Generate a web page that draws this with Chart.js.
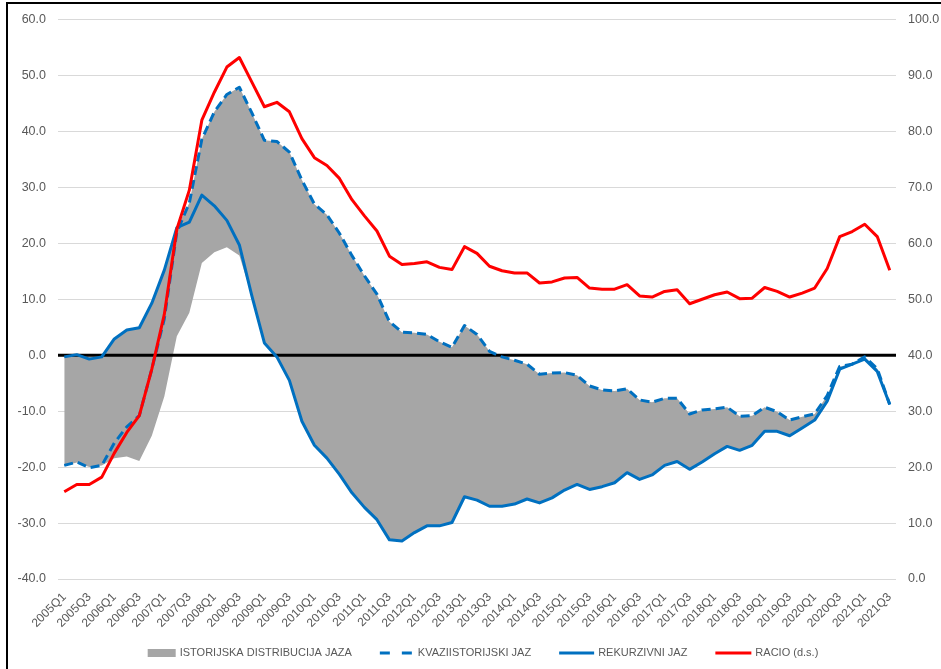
<!DOCTYPE html>
<html>
<head>
<meta charset="utf-8">
<script src="https://cdn.jsdelivr.net/npm/chart.js@4/dist/chart.umd.min.js"></script>
<style>
html,body{margin:0;padding:0;background:#fff;}
canvas{display:block;}
</style>
</head>
<body>
<canvas id="c" width="941" height="669"></canvas>
<script>
const quarters = [
  '2005Q1','2005Q2','2005Q3','2005Q4','2006Q1','2006Q2','2006Q3','2006Q4',
  '2007Q1','2007Q2','2007Q3','2007Q4','2008Q1','2008Q2','2008Q3','2008Q4',
  '2009Q1','2009Q2','2009Q3','2009Q4','2010Q1','2010Q2','2010Q3','2010Q4',
  '2011Q1','2011Q2','2011Q3','2011Q4','2012Q1','2012Q2','2012Q3','2012Q4',
  '2013Q1','2013Q2','2013Q3','2013Q4','2014Q1','2014Q2','2014Q3','2014Q4',
  '2015Q1','2015Q2','2015Q3','2015Q4','2016Q1','2016Q2','2016Q3','2016Q4',
  '2017Q1','2017Q2','2017Q3','2017Q4','2018Q1','2018Q2','2018Q3','2018Q4',
  '2019Q1','2019Q2','2019Q3','2019Q4','2020Q1','2020Q2','2020Q3','2020Q4',
  '2021Q1','2021Q2','2021Q3'
];

// Historical distribution of the gap (grey band): lower and upper bounds
const bandLower = [
  -19.8,-19.2,-20.0,-19.7,-18.4,-18.1,-18.9,-14.4,
  -7.4,3.4,7.6,16.5,18.4,19.3,17.8,10.6,
  2.2,-0.3,-4.5,-11.8,-16.1,-18.4,-21.3,-24.6,
  -27.2,-29.4,-33.0,-33.2,-31.7,-30.5,-30.5,-29.9,
  -25.3,-25.9,-27.0,-27.0,-26.6,-25.7,-26.4,-25.5,
  -24.1,-23.1,-24.0,-23.5,-22.8,-21.0,-22.2,-21.4,
  -19.7,-19.0,-20.4,-19.1,-17.6,-16.3,-17.0,-16.1,
  -13.6,-13.6,-14.4,-13.0,-11.6,-8.2,-2.5,-1.6,
  -0.7,-2.9,-8.8
];
const bandUpper = [
  0.0,0.1,-0.3,-0.2,2.9,4.5,4.9,9.3,
  15.2,22.8,27.2,38.6,43.5,46.6,47.9,43.3,
  38.4,38.2,36.3,31.3,27.0,25.1,21.8,17.8,
  14.2,10.9,6.0,4.1,4.0,3.7,2.4,1.4,
  5.3,3.7,0.7,-0.3,-0.9,-1.6,-3.4,-3.2,
  -3.1,-3.6,-5.5,-6.2,-6.4,-6.0,-8.0,-8.4,
  -7.7,-7.7,-10.5,-9.8,-9.6,-9.3,-10.9,-10.8,
  -9.3,-10.1,-11.6,-11.0,-10.5,-7.2,-2.0,-1.6,
  -0.3,-2.4,-8.8
];
// KVAZIISTORIJSKI JAZ (dashed blue)
const kvaziGap = [
  -19.7,-19.1,-20.1,-19.7,-15.7,-12.8,-10.8,-2.5,
  6.5,22.0,27.2,38.6,43.5,46.6,47.9,43.3,
  38.4,38.2,36.3,31.3,27.0,25.1,21.8,17.8,
  14.2,10.9,6.0,4.1,4.0,3.7,2.4,1.4,
  5.3,3.7,0.7,-0.3,-0.9,-1.6,-3.4,-3.2,
  -3.1,-3.6,-5.5,-6.2,-6.4,-6.0,-8.0,-8.4,
  -7.7,-7.7,-10.5,-9.8,-9.6,-9.3,-10.9,-10.8,
  -9.3,-10.1,-11.6,-11.0,-10.5,-7.2,-2.0,-1.6,
  -0.3,-2.4,-8.8
];
// REKURZIVNI JAZ (solid blue)
const rekurzivniGap = [
  -0.3,0.1,-0.7,-0.3,2.9,4.5,4.9,9.3,
  15.2,22.8,23.8,28.6,26.7,24.1,19.7,10.6,
  2.2,-0.3,-4.5,-11.8,-16.1,-18.4,-21.3,-24.6,
  -27.2,-29.4,-33.0,-33.2,-31.7,-30.5,-30.5,-29.9,
  -25.3,-25.9,-27.0,-27.0,-26.6,-25.7,-26.4,-25.5,
  -24.1,-23.1,-24.0,-23.5,-22.8,-21.0,-22.2,-21.4,
  -19.7,-19.0,-20.4,-19.1,-17.6,-16.3,-17.0,-16.1,
  -13.6,-13.6,-14.4,-13.0,-11.6,-8.2,-2.5,-1.6,
  -0.7,-2.9,-8.8
];
// RACIO (d.s.) - right axis
const racio = [
  15.6,16.9,16.9,18.2,22.5,26.2,29.2,37.5,
  47.3,62.5,69.5,82.0,87.0,91.5,93.2,88.8,
  84.4,85.2,83.5,78.7,75.3,73.9,71.6,67.8,
  64.9,62.2,57.7,56.2,56.4,56.7,55.7,55.3,
  59.4,58.2,55.9,55.1,54.7,54.7,52.9,53.1,
  53.8,53.9,52.0,51.8,51.8,52.6,50.6,50.4,
  51.4,51.7,49.2,50.0,50.8,51.3,50.1,50.2,
  52.1,51.4,50.4,51.1,52.0,55.5,61.2,62.1,
  63.4,61.2,55.2
];
const leftTicks = {min:-40, max:60, step:10};
const rightTicks = {min:0, max:100, step:10};

const FONT = '"Liberation Sans", Arial, sans-serif';
const TXT = '#595959';

const zeroLine = {
  id:'zeroLine',
  afterDatasetDraw(chart, args){
    if (args.index !== 1) return;
    const ys = chart.scales.y, a = chart.chartArea, c = chart.ctx;
    const y0 = ys.getPixelForValue(0);
    c.save();
    c.strokeStyle = '#000';
    c.lineWidth = 3;
    c.beginPath();
    c.moveTo(a.left, y0);
    c.lineTo(a.right, y0);
    c.stroke();
    c.restore();
  }
};

const frame = {
  id:'frame',
  afterDraw(chart){
    const c = chart.ctx;
    c.save();
    c.fillStyle = '#000';
    c.fillRect(6, 2, 2, chart.height - 2);
    c.fillRect(6, 2, chart.width - 6, 2);
    c.restore();
  }
};

const bottomLegend = {
  id:'bottomLegend',
  afterDraw(chart){
    const c = chart.ctx;
    const ds = chart.data.datasets;
    c.save();
    c.font = '11px ' + FONT;
    c.textBaseline = 'middle';
    c.textAlign = 'left';
    const items = [
      {kind:'box', d:ds[1], w:28},
      {kind:'line', d:ds[2], w:34},
      {kind:'line', d:ds[3], w:35},
      {kind:'line', d:ds[4], w:36}
    ];
    const gap = 4, itemGap = 28;
    let total = 0;
    items.forEach((it, i) => {
      it.tw = c.measureText(it.d.label).width;
      total += it.w + gap + it.tw + (i ? itemGap : 0);
    });
    let x = 483 - total / 2;
    const y = 653;
    items.forEach((it) => {
      if (it.kind === 'box') {
        c.fillStyle = it.d.backgroundColor;
        c.fillRect(x, y - 4, it.w, 8);
      } else {
        c.strokeStyle = it.d.borderColor;
        c.lineWidth = 3;
        c.setLineDash(it.d.borderDash ? [10, 12] : []);
        c.beginPath();
        c.moveTo(x, y);
        c.lineTo(x + it.w, y);
        c.stroke();
        c.setLineDash([]);
      }
      c.fillStyle = TXT;
      c.fillText(it.d.label, x + it.w + gap, y);
      x += it.w + gap + it.tw + itemGap;
    });
    c.restore();
  }
};

new Chart(document.getElementById('c'), {
  type:'line',
  data:{
    labels: quarters,
    datasets:[
      {label:'_band_lower', data:bandLower, yAxisID:'y', borderWidth:0, borderColor:'transparent',
       pointRadius:0, fill:false, order:10},
      {label:'ISTORIJSKA DISTRIBUCIJA JAZA', data:bandUpper, yAxisID:'y', borderWidth:0,
       borderColor:'transparent', backgroundColor:'#A6A6A6', pointRadius:0, fill:'-1', order:9},
      {label:'KVAZIISTORIJSKI JAZ', data:kvaziGap, yAxisID:'y', borderColor:'#0070C0', borderWidth:3,
       borderDash:[9,5], borderJoinStyle:'round', pointRadius:0, fill:false, tension:0, order:3},
      {label:'REKURZIVNI JAZ', data:rekurzivniGap, yAxisID:'y', borderColor:'#0070C0', borderWidth:3,
       borderJoinStyle:'round', pointRadius:0, fill:false, tension:0, order:2},
      {label:'RACIO (d.s.)', data:racio, yAxisID:'y2', borderColor:'#FF0000', borderWidth:3,
       borderJoinStyle:'round', pointRadius:0, fill:false, tension:0, order:1}
    ]
  },
  options:{
    responsive:false,
    animation:false,
    events:[],
    layout:{padding:{top:17, bottom:40, left:0, right:0}},
    plugins:{legend:{display:false}, tooltip:{enabled:false}, title:{display:false}},
    scales:{
      x:{
        offset:true,
        grid:{display:false, drawTicks:false},
        border:{display:false},
        ticks:{
          autoSkip:false, minRotation:45, maxRotation:45, padding:11,
          color:TXT, font:{size:12, family:FONT},
          callback(v, i){ return i % 2 === 0 ? this.getLabelForValue(v) : ''; }
        },
        afterFit(s){ s.height = 50; }
      },
      y:{
        position:'left',
        min:leftTicks.min, max:leftTicks.max,
        grid:{color:'#D9D9D9', lineWidth:1, drawTicks:false},
        border:{display:false},
        ticks:{stepSize:leftTicks.step, padding:12, color:TXT, font:{size:12.5, family:FONT},
               callback:v => v.toFixed(1)},
        afterFit(s){ s.width = 58; }
      },
      y2:{
        position:'right',
        min:rightTicks.min, max:rightTicks.max,
        grid:{display:false, drawTicks:false},
        border:{display:false},
        ticks:{stepSize:rightTicks.step, padding:12, color:TXT, font:{size:12.5, family:FONT},
               callback:v => v.toFixed(1)},
        afterFit(s){ s.width = 45; }
      }
    }
  },
  plugins:[zeroLine, frame, bottomLegend]
});
</script>
</body>
</html>
